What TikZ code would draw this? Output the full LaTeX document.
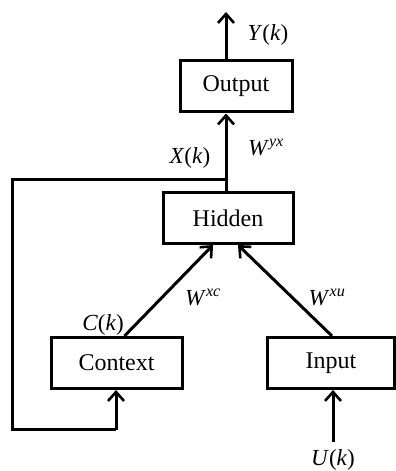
\documentclass[tikz,border=0pt]{standalone}
\usepackage{fontspec}
\setmainfont{Liberation Serif}
\usetikzlibrary{arrows.meta,positioning}
\newcommand{\sig}[1]{\textit{#1}(\textit{k})}
\newcommand{\wgt}[1]{\textit{W}\textsuperscript{\textit{#1}}}

\begin{document}
\begin{tikzpicture}[
        x=1pt, y=1pt,
        font=\fontsize{24}{28}\selectfont,
        layer/.style={rectangle, draw, line width=3pt, inner sep=0pt, minimum height=51pt},
        arrow/.style={-{Straight Barb[length=9pt,width=16pt,line width=2.6pt]}, line width=3pt},
        line/.style={line width=3pt},
        lbl/.style={inner sep=1pt, font=\fontsize{23}{27}\selectfont}
    ]
        \useasboundingbox (0,0) rectangle (396,471);
        \node[layer, minimum width=112pt] (out) at (236,384.5) {Output};
        \node[layer, minimum width=130pt] (hid) at (228,253) {Hidden};
        \node[layer, minimum width=131pt] (ctx) at (116.5,108) {Context};
        \node[layer, minimum width=127pt] (inp) at (331,108) {Input};

        \coordinate (ytop) at (226,459);
        \coordinate (junc) at (226,291);
        \coordinate (fbl) at (12,291);
        \coordinate (fbb) at (12,41);
        \coordinate (fbr) at (116,41);
        \coordinate (ubot) at (333,29);

        % output and hidden state
        \draw[arrow] (out.north -| ytop) -- (ytop);
        \draw[arrow] (hid.north -| junc) -- (out.south -| junc);
        % feedback to context
        \draw[line] (junc) -- (fbl) -- (fbb) -- (fbr);
        \draw[arrow] (fbr) -- (ctx.south -| fbr);
        % weights into hidden
        \draw[arrow] ([xshift=8pt]ctx.north) -- ([xshift=-15pt]hid.south);
        \draw[arrow] ([xshift=1pt]inp.north) -- ([xshift=10pt]hid.south);
        \draw[arrow] (ubot) -- (inp.south -| ubot);

        \node[lbl] (ylab) at (268,436) {\sig{Y}};
        \node[lbl] (xlab) at (190,313) {\sig{X}};
        \node[lbl] (wyx) at (266,324) {\wgt{yx}};
        \node[lbl] (wxc) at (203,174) {\wgt{xc}};
        \node[lbl] (wxu) at (327,174) {\wgt{xu}};
        \node[lbl] (clab) at (103,146) {\sig{C}};
        \node[lbl] (ulab) at (333,11) {\sig{U}};
    \end{tikzpicture}
\end{document}
